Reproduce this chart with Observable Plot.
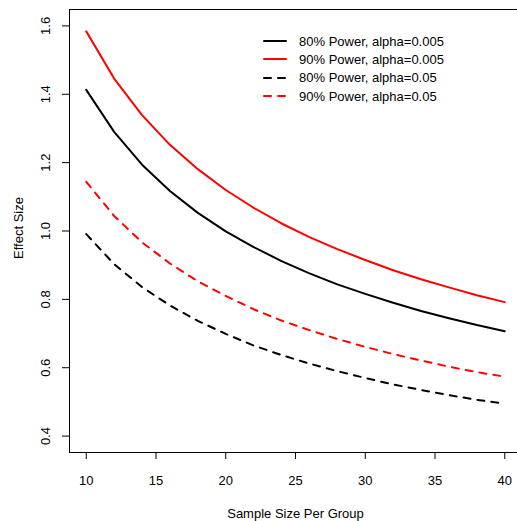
<!DOCTYPE html>
<html>
<head>
<meta charset="utf-8">
<script src="https://cdn.jsdelivr.net/npm/d3@7"></script>
<script src="https://cdn.jsdelivr.net/npm/@observablehq/plot@0.6"></script>
<style>
  html, body { margin: 0; padding: 0; background: #fff; overflow: hidden; }
  #wrap { position: relative; width: 517px; height: 521px; overflow: hidden; }
  #wrap > svg { max-width: none !important; display: block; }
  #legend { position: absolute; left: 0; top: 0; font-family: "Liberation Sans", Arial, sans-serif; font-size: 13px; color: #000; }
  .row { position: absolute; display: flex; align-items: center; height: 18px; white-space: nowrap; }
  .row svg { margin-right: 11px; }
</style>
</head>
<body>
<div id="wrap"><div id="legend"></div></div>
<script>
// Sample size per group
const sampleSize = [10, 12, 14, 16, 18, 20, 22, 24, 26, 28, 30, 32, 34, 36, 38, 40];
// Effect size, 80% power, alpha = 0.005
const p80a005 = [1.413, 1.290, 1.194, 1.117, 1.053, 0.999, 0.953, 0.912, 0.876, 0.844, 0.816, 0.790, 0.766, 0.745, 0.725, 0.707];
// Effect size, 90% power, alpha = 0.005
const p90a005 = [1.584, 1.446, 1.339, 1.252, 1.181, 1.120, 1.068, 1.022, 0.982, 0.947, 0.915, 0.885, 0.859, 0.835, 0.812, 0.792];
// Effect size, 80% power, alpha = 0.05
const p80a05 = [0.991, 0.903, 0.836, 0.782, 0.737, 0.699, 0.665, 0.637, 0.612, 0.590, 0.570, 0.551, 0.535, 0.520, 0.506, 0.495];
// Effect size, 90% power, alpha = 0.05
const p90a05 = [1.144, 1.044, 0.967, 0.905, 0.853, 0.810, 0.771, 0.738, 0.710, 0.684, 0.661, 0.640, 0.621, 0.603, 0.587, 0.574];

const seriesNames = ["80% Power, alpha=0.005", "90% Power, alpha=0.005", "80% Power, alpha=0.05", "90% Power, alpha=0.05"];
const seriesValues = [p80a005, p90a005, p80a05, p90a05];
const seriesColors = ["#000000", "#ff0000", "#000000", "#ff0000"];
const seriesDashed = [false, false, true, true];

const xTicks = [10, 15, 20, 25, 30, 35, 40];
const yTicks = [0.4, 0.6, 0.8, 1.0, 1.2, 1.4, 1.6];
const yTickLabels = ["0.4", "0.6", "0.8", "1.0", "1.2", "1.4", "1.6"];
const xTitle = "Sample Size Per Group";
const yTitle = "Effect Size";

const dash = "7,7";

const lineMarks = seriesValues.map((vals, k) => {
  const rows = sampleSize.map((n, i) => ({n, d: vals[i]}));
  return Plot.line(rows, {
    x: "n", y: "d",
    stroke: seriesColors[k],
    strokeWidth: 2,
    strokeDasharray: seriesDashed[k] ? dash : null,
    strokeLinecap: "round",
    strokeLinejoin: "round"
  });
});

const chart = Plot.plot({
  width: 530,
  height: 521,
  marginLeft: 69,
  marginRight: 9,
  marginTop: 9,
  marginBottom: 69,
  style: {fontFamily: "'Liberation Sans', Arial, sans-serif", fontSize: "13px", color: "#000", background: "#fff", maxWidth: "none"},
  x: {domain: [8.8, 41.2]},
  y: {domain: [0.352, 1.648]},
  marks: [
    Plot.frame({stroke: "#000", strokeWidth: 1}),
    Plot.axisX({ticks: xTicks, tickSize: 7, tickPadding: 16, label: null, fontSize: 13, tickFormat: d => String(d)}),
    Plot.axisY({ticks: yTicks, tickSize: 7, label: null, tickFormat: () => ""}),
    Plot.text(yTicks, {y: d => d, text: (d, i) => yTickLabels[i], frameAnchor: "left", dx: -24, rotate: -90, textAnchor: "middle", lineAnchor: "middle", fontSize: 13, fill: "#000"}),
    Plot.text([xTitle], {frameAnchor: "bottom", dy: 61, lineAnchor: "middle", textAnchor: "middle", fontSize: 13, fill: "#000"}),
    Plot.text([yTitle], {frameAnchor: "left", dx: -51, dy: -3, rotate: -90, lineAnchor: "middle", textAnchor: "middle", fontSize: 13, fill: "#000"}),
    ...lineMarks
  ]
});
chart.style.maxWidth = "none";
document.getElementById("wrap").insertBefore(chart, document.getElementById("legend"));

// Legend (HTML overlay, like R's legend with bty="n")
const legend = document.getElementById("legend");
seriesNames.forEach((name, k) => {
  const row = document.createElement("div");
  row.className = "row";
  row.style.left = "262px";
  row.style.top = (32 + k * 18.4) + "px";
  const ns = "http://www.w3.org/2000/svg";
  const s = document.createElementNS(ns, "svg");
  s.setAttribute("width", "26"); s.setAttribute("height", "18");
  const l = document.createElementNS(ns, "line");
  l.setAttribute("x1", "2"); l.setAttribute("x2", "24");
  l.setAttribute("y1", "9"); l.setAttribute("y2", "9");
  l.setAttribute("stroke", seriesColors[k]);
  l.setAttribute("stroke-width", "2");
  l.setAttribute("stroke-linecap", "round");
  if (seriesDashed[k]) l.setAttribute("stroke-dasharray", dash);
  s.appendChild(l);
  row.appendChild(s);
  const t = document.createElement("span");
  t.textContent = name;
  row.appendChild(t);
  legend.appendChild(row);
});
</script>
</body>
</html>
